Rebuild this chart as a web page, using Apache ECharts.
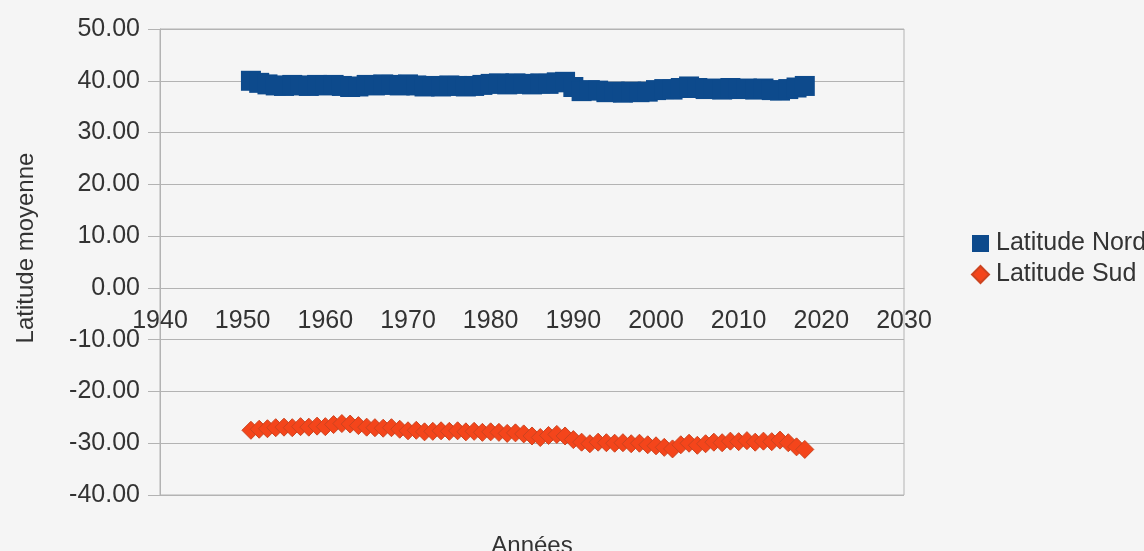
<!DOCTYPE html>
<html>
<head>
<meta charset="utf-8">
<script src="https://cdn.jsdelivr.net/npm/echarts@6/dist/echarts.min.js"></script>
<style>
  html, body { margin: 0; padding: 0; background: #f5f5f5; }
  #chart { width: 1144px; height: 551px; }
</style>
</head>
<body>
<div id="chart"></div>
<script>
// Years covered by both series
const years = [];
for (let y = 1951; y <= 2018; y++) years.push(y);

// Mean northern latitude per year
const latNord = [
  40.0, 39.6, 39.3, 39.1, 39.0, 39.2, 39.1, 39.0, 39.2, 39.1,
  39.2, 39.0, 38.8, 38.9, 39.2, 39.1, 39.3, 39.2, 39.1, 39.3,
  39.1, 38.9, 39.0, 38.9, 39.1, 39.0, 38.9, 39.0, 39.2, 39.4,
  39.5, 39.3, 39.5, 39.4, 39.3, 39.5, 39.4, 39.7, 39.8, 38.8,
  38.0, 38.2, 38.1, 37.8, 37.9, 37.7, 37.9, 37.8, 37.9, 38.2,
  38.4, 38.3, 38.6, 38.9, 38.6, 38.4, 38.5, 38.3, 38.6, 38.4,
  38.5, 38.3, 38.5, 38.2, 38.1, 38.4, 38.7, 39.0
];

// Mean southern latitude per year
const latSud = [
  -27.5, -27.3, -27.2, -27.0, -26.9, -27.0, -26.8, -26.9, -26.7, -26.8,
  -26.4, -26.2, -26.3, -26.6, -26.9, -27.0, -27.1, -27.0, -27.3, -27.6,
  -27.5, -27.8, -27.7, -27.6, -27.7, -27.6, -27.8, -27.7, -27.9, -27.8,
  -27.9, -28.1, -28.0, -28.2, -28.6, -28.9, -28.5, -28.3, -28.6, -29.3,
  -29.8, -30.1, -29.8, -29.9, -30.0, -29.9, -30.1, -30.0, -30.3, -30.5,
  -30.8, -31.1, -30.3, -30.0, -30.4, -30.1, -29.8, -29.9, -29.6, -29.7,
  -29.5, -29.8, -29.6, -29.7, -29.4, -29.9, -30.7, -31.2
];

const seriesNames = ['Latitude Nord', 'Latitude Sud'];
const axisTitles = { x: 'Années', y: 'Latitude moyenne' };

const Y_MIN = -40, Y_MAX = 50;
const GRID = { left: 160, right: 240, top: 29, bottom: 56 };
const PLOT_H = 551 - GRID.top - GRID.bottom;
// shift the year axis up from the bottom edge to the zero latitude line
const xAxisOffset = -Math.round(PLOT_H * (0 - Y_MIN) / (Y_MAX - Y_MIN));

const FONT = '"Liberation Sans", Arial, sans-serif';
const TEXT = '#333333';
const LINE = '#b3b3b3';

const chart = echarts.init(document.getElementById('chart'), null, { renderer: 'canvas' });

chart.setOption({
  backgroundColor: '#f5f5f5',
  animation: false,
  grid: Object.assign({
    show: true, borderColor: LINE, borderWidth: 1, backgroundColor: 'transparent'
  }, GRID),
  xAxis: {
    type: 'value',
    position: 'bottom',
    offset: xAxisOffset,
    min: 1940, max: 2030, interval: 10,
    axisLine: { show: true, onZero: false, lineStyle: { color: LINE } },
    axisTick: { show: false },
    splitLine: { show: false },
    axisLabel: {
      margin: 21, color: TEXT, fontFamily: FONT, fontSize: 25,
      formatter: v => String(v)
    }
  },
  yAxis: {
    type: 'value',
    min: Y_MIN, max: Y_MAX, interval: 10,
    axisLine: { show: true, lineStyle: { color: LINE } },
    axisTick: { show: true, inside: false, length: 12, lineStyle: { color: LINE } },
    splitLine: { show: true, lineStyle: { color: LINE, width: 1 } },
    axisLabel: {
      margin: 20, color: TEXT, fontFamily: FONT, fontSize: 25,
      formatter: v => v.toFixed(2)
    }
  },
  legend: {
    orient: 'vertical',
    left: 966, top: 226,
    itemWidth: 17, itemHeight: 17, itemGap: 6,
    textStyle: { color: TEXT, fontFamily: FONT, fontSize: 25, lineHeight: 25, padding: [0, 0, 0, 2] },
    data: [
      { name: seriesNames[0], icon: 'rect' },
      { name: seriesNames[1], icon: 'diamond' }
    ]
  },
  graphic: [
    {
      type: 'text', x: 26, y: 248, rotation: Math.PI / 2,
      style: { text: axisTitles.y, font: '24px ' + FONT, fill: TEXT, align: 'center', verticalAlign: 'middle' }
    },
    {
      type: 'text', x: 532, y: 534,
      style: { text: axisTitles.x, font: '24px ' + FONT, fill: TEXT, align: 'center', verticalAlign: 'top' }
    }
  ],
  series: [
    {
      name: seriesNames[0],
      type: 'scatter',
      symbol: 'rect',
      symbolSize: 20,
      itemStyle: { color: '#0d4a8c', opacity: 1 },
      data: years.map((y, i) => [y, latNord[i]])
    },
    {
      name: seriesNames[1],
      type: 'scatter',
      symbol: 'diamond',
      symbolSize: 18,
      itemStyle: { color: '#f4451b', borderColor: '#cc4420', borderWidth: 1, opacity: 1 },
      data: years.map((y, i) => [y, latSud[i]])
    }
  ]
});
</script>
</body>
</html>
